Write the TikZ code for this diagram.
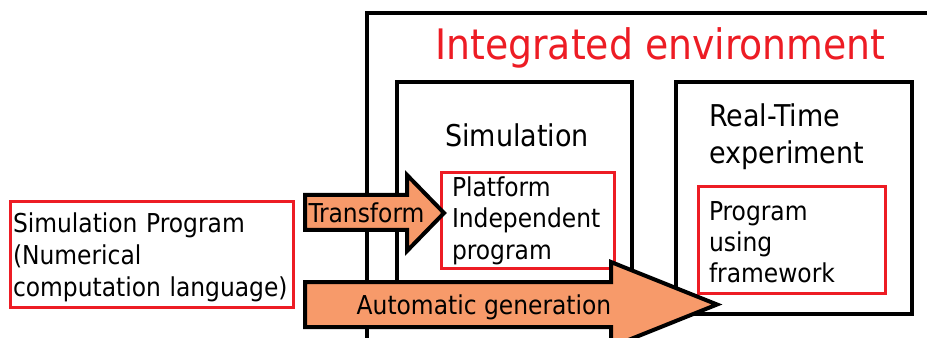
\documentclass[tikz,border=0pt]{standalone}
\usepackage{fontspec}
\setmainfont{DejaVu Sans Condensed}
\usetikzlibrary{positioning}
\definecolor{boxred}{RGB}{237,28,36}
\definecolor{arroworange}{RGB}{247,154,106}
\begin{document}
\begin{tikzpicture}[x=0.75pt,y=-0.75pt,
        frame/.style={draw=black,line width=3pt,rectangle,inner sep=0pt},
        prog/.style={draw=boxred,line width=2.25pt,rectangle,align=left,inner ysep=0pt,font=\fontsize{19.5}{23.6}\selectfont},
        heading/.style={font=\fontsize{22.5}{27.75}\selectfont,align=left,inner sep=0pt},
        blockarrow/.style={draw=black,line width=3pt,fill=arroworange,line join=miter},
        arrowtext/.style={font=\fontsize{19.5}{23.6}\selectfont,inner sep=0pt}
      ]
      \clip (0,0) rectangle (927,338);
      \draw[line width=3pt] (367,13.5) rectangle (980,400);
      \node[font=\fontsize{31.5}{36}\selectfont,text=boxred,anchor=base,inner sep=0pt] (title) at (660.5,60) {Integrated environment};
      \node[frame,minimum width=176.25pt,minimum height=173.25pt] (sim) at (514.5,197.5) {};
      \node[frame,minimum width=177pt,minimum height=174pt] (rt) at (794,198) {};
      \node[heading,anchor=base] (simtitle) at (517,147) {Simulation};
      \node[heading,anchor=north west] (rttitle) at (709,103) {Real-Time\\experiment};
      \node[prog,minimum width=212.25pt,minimum height=78.75pt,inner xsep=2.25pt,text width=207.75pt,font=\fontsize{19.5}{24}\selectfont] (source) at (151.5,254.5) {\rule{0pt}{19.5pt}Simulation Program\\(Numerical\\computation language)};
      \node[prog,minimum width=129.75pt,minimum height=71.25pt,inner xsep=8.25pt,text width=113.25pt] (pip) at (527.5,220.5) {Platform\\Independent\\program};
      \node[prog,minimum width=140.25pt,minimum height=79.5pt,inner xsep=8.25pt,text width=123.75pt] (fw) at (791.5,240) {\rule{0pt}{17.5pt}Program\\using\\framework};
      \draw[blockarrow] (305,195) -- (407,195) -- (407,175) -- (444,213) -- (407,251) -- (407,230) -- (305,230) -- cycle;
      \draw[blockarrow] (305,282) -- (611,282) -- (611,262) -- (717,304.5) -- (611,347) -- (611,327) -- (305,327) -- cycle;
      \node[arrowtext,anchor=base] (transform) at (366.5,223) {Transform};
      \node[arrowtext,anchor=base] (autogen) at (484,314) {Automatic generation};
    \end{tikzpicture}
\end{document}
